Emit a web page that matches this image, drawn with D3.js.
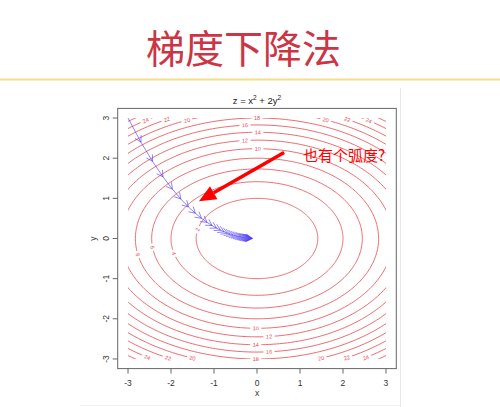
<!DOCTYPE html>
<html><head><meta charset="utf-8">
<script src="https://cdn.jsdelivr.net/npm/d3@7"></script>
<style>body{margin:0;background:#fff}svg{display:block}</style>
</head><body>
<script>
// ---- data ----
const slideTitle = "梯度下降法";
const plotTitle = {base:"z = x", sup1:"2", mid:" + 2y", sup2:"2"};
const annotation = "也有个弧度?";
const xTicks = [-3,-2,-1,0,1,2,3];
const yTicks = [-3,-2,-1,0,1,2,3];
const levels = [2,4,6,8,10,12,14,16,18,20,22,24,26];
// contour labels: level, x position (data), branch (+1 upper, -1 lower)
const labelLevel = [2, 4, 6, 8, 10, 12, 14, 16, 18, 20, 22, 24, 20, 22, 24, 10, 12, 14, 16, 18, 20, 22, 24, 20, 22, 24];
const labelX     = [-1.38,-1.93,-2.43,-2.77, 0.02,-0.28, 0.02,-0.28, 0.0,-1.63,-2.10,-2.59, 1.60, 2.10, 2.60,-0.03, 0.28,-0.03, 0.28,-0.03,-1.50,-2.07,-2.55, 1.49, 2.09, 2.53];
const labelSide  = [1,-1,-1,-1, 1,1,1,1,1, 1,1,1, 1,1,1, -1,-1,-1,-1,-1, -1,-1,-1, -1,-1,-1];
// gradient descent path
const pathX = [-3.000,-2.700,-2.430,-2.187,-1.968,-1.771,-1.594,-1.435,-1.291,-1.162,-1.046,-0.941,-0.847,-0.763,-0.686,-0.618,-0.556,-0.500,-0.450,-0.405,-0.365,-0.328,-0.295,-0.266,-0.239,-0.215,-0.194,-0.174,-0.157,-0.141,-0.127,-0.114,-0.103];
const pathY = [3.000,2.400,1.920,1.536,1.229,0.983,0.786,0.629,0.503,0.403,0.322,0.258,0.206,0.165,0.132,0.106,0.084,0.068,0.054,0.043,0.035,0.028,0.022,0.018,0.014,0.011,0.009,0.007,0.006,0.005,0.004,0.003,0.002];
// annotation arrow (data coords)
const arrowFrom = [0.63, 2.14];
const arrowTo = [-1.35, 0.93];

// ---- drawing ----
const W=500,H=407;
const svg=d3.select("body").append("svg").attr("width",W).attr("height",H);

// slide decoration
svg.append("text").attr("x",146).attr("y",63).attr("font-family","Noto Sans CJK SC").attr("font-size",39)
  .attr("fill","#cb3545").text(slideTitle);
svg.append("line").attr("x1",0).attr("x2",W).attr("y1",79.5).attr("y2",79.5).attr("stroke","#f5df86").attr("stroke-width",2);
svg.append("line").attr("x1",400.5).attr("x2",400.5).attr("y1",88).attr("y2",407).attr("stroke","#e8e8e8");
svg.append("line").attr("x1",80).attr("x2",400).attr("y1",405.5).attr("y2",405.5).attr("stroke","#f0f0f0");

const x=d3.scaleLinear().domain([-3.24,3.24]).range([117.7,396.3]);
const y=d3.scaleLinear().domain([-3.24,3.24]).range([368.6,108.4]);
const kx=(x(1)-x(0)), ky=(y(0)-y(1));

const defs=svg.append("defs");
defs.append("clipPath").attr("id","grid").append("rect")
  .attr("x",x(-3)).attr("y",y(3)).attr("width",x(3)-x(-3)).attr("height",y(-3)-y(3));

// labels geometry
const labels=labelLevel.map((L,i)=>{
  const lx=labelX[i]; const ly=labelSide[i]*Math.sqrt(Math.max(0,(L-lx*lx)/2));
  let ang=Math.atan2(-lx*ky, -2*ly*kx)*180/Math.PI;
  if(ang>90) ang-=180; if(ang<=-90) ang+=180;
  return {L, px:x(lx), py:y(ly), ang};
});
const mask=defs.append("mask").attr("id","lblmask");
mask.append("rect").attr("x",0).attr("y",0).attr("width",W).attr("height",H).attr("fill","#fff");
labels.forEach(d=>{
  const w=String(d.L).length*3.6+4;
  mask.append("rect").attr("x",-w/2).attr("y",-2.5).attr("width",w).attr("height",5).attr("fill","#000")
    .attr("transform",`translate(${d.px},${d.py}) rotate(${d.ang})`);
});

const red="#e8464e";
const gC=svg.append("g").attr("clip-path","url(#grid)").append("g").attr("mask","url(#lblmask)");
const line=d3.line().x(d=>x(d[0])).y(d=>y(d[1]));
levels.forEach(L=>{
  const a=Math.sqrt(L), b=Math.sqrt(L/2);
  const pts=d3.range(0,361,1).map(t=>[a*Math.cos(t*Math.PI/180), b*Math.sin(t*Math.PI/180)]);
  gC.append("path").attr("d",line(pts)).attr("fill","none").attr("stroke",red).attr("stroke-opacity",0.8).attr("stroke-width",1);
});
labels.forEach(d=>{
  svg.append("text").attr("transform",`translate(${d.px},${d.py}) rotate(${d.ang})`)
    .attr("text-anchor","middle").attr("dominant-baseline","central")
    .attr("font-family","Liberation Sans").attr("font-size",5.5).attr("fill",red).text(d.L);
});

// box and axes
const axc="#666";
svg.append("rect").attr("x",x(-3.24)).attr("y",y(3.24)).attr("width",x(3.24)-x(-3.24)).attr("height",y(-3.24)-y(3.24))
  .attr("fill","none").attr("stroke",axc).attr("stroke-width",1);
const gx=svg.append("g").attr("transform",`translate(0,${y(-3.24)})`);
xTicks.forEach(t=>{
  gx.append("line").attr("x1",x(t)).attr("x2",x(t)).attr("y1",0).attr("y2",5).attr("stroke",axc);
  gx.append("text").attr("x",x(t)).attr("y",17).attr("text-anchor","middle").attr("font-family","Liberation Sans")
    .attr("font-size",8.5).attr("fill","#333").text(t<0?"-"+Math.abs(t):t);
});
svg.append("text").attr("x",x(0)).attr("y",396).attr("text-anchor","middle").attr("font-family","Liberation Sans")
  .attr("font-size",8.5).attr("fill","#333").text("x");
const gy=svg.append("g").attr("transform",`translate(${x(-3.24)},0)`);
yTicks.forEach(t=>{
  gy.append("line").attr("x1",0).attr("x2",-5).attr("y1",y(t)).attr("y2",y(t)).attr("stroke",axc);
  gy.append("text").attr("transform",`translate(-12,${y(t)}) rotate(-90)`).attr("text-anchor","middle")
    .attr("dominant-baseline","central").attr("font-family","Liberation Sans")
    .attr("font-size",8.5).attr("fill","#333").text(t<0?"-"+Math.abs(t):t);
});
svg.append("text").attr("transform",`translate(93,${y(0)}) rotate(-90)`).attr("text-anchor","middle")
  .attr("dominant-baseline","central").attr("font-family","Liberation Sans").attr("font-size",8.5).attr("fill","#333").text("y");

// plot title
const tt=svg.append("text").attr("x",x(0)).attr("y",103.5).attr("text-anchor","middle")
  .attr("font-family","Liberation Sans").attr("font-size",9.5).attr("fill","#222");
tt.append("tspan").text(plotTitle.base);
tt.append("tspan").attr("font-size",6.5).attr("dy",-4).text(plotTitle.sup1);
tt.append("tspan").attr("dy",4).text(plotTitle.mid);
tt.append("tspan").attr("font-size",6.5).attr("dy",-4).text(plotTitle.sup2);

// gradient descent path with arrowheads
const gP=svg.append("g").attr("stroke","#4433f2").attr("stroke-opacity",0.6).attr("fill","none").attr("stroke-width",1);
for(let i=0;i<pathX.length-1;i++){
  const x0=x(pathX[i]),y0=y(pathY[i]),x1=x(pathX[i+1]),y1=y(pathY[i+1]);
  gP.append("line").attr("x1",x0).attr("y1",y0).attr("x2",x1).attr("y2",y1);
  const ang=Math.atan2(y1-y0,x1-x0), len=7, sp=Math.PI/6;
  const p1=[x1-len*Math.cos(ang-sp), y1-len*Math.sin(ang-sp)];
  const p2=[x1-len*Math.cos(ang+sp), y1-len*Math.sin(ang+sp)];
  gP.append("path").attr("d",`M${p1}L${x1},${y1}L${p2}`);
}

// annotation arrow
const ax0=x(arrowFrom[0]),ay0=y(arrowFrom[1]),ax1=x(arrowTo[0]),ay1=y(arrowTo[1]);
const aa=Math.atan2(ay1-ay0,ax1-ax0), hl=17, hw=7.5;
const bx=ax1-hl*Math.cos(aa), by=ay1-hl*Math.sin(aa);
svg.append("line").attr("x1",ax0).attr("y1",ay0).attr("x2",bx).attr("y2",by).attr("stroke","#f00").attr("stroke-width",3.5);
svg.append("path").attr("d",`M${ax1},${ay1}L${bx+hw*Math.sin(aa)},${by-hw*Math.cos(aa)}L${bx-hw*Math.sin(aa)},${by+hw*Math.cos(aa)}Z`).attr("fill","#f00");
svg.append("text").attr("x",303).attr("y",161).attr("font-family","Noto Sans CJK SC").attr("font-size",15)
  .attr("fill","#f00").text(annotation);
</script>
</body></html>
